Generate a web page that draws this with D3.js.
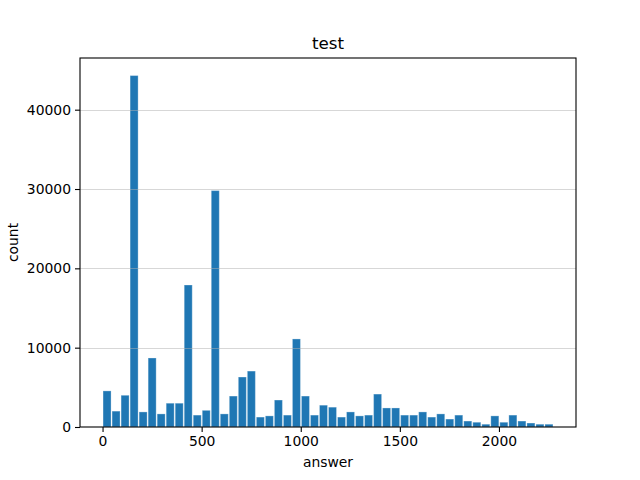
<!DOCTYPE html>
<html>
<head>
<meta charset="utf-8">
<script src="https://cdn.jsdelivr.net/npm/d3@7"></script>
<style>
  body { margin: 0; background: #fff; }
  text { font-family: "DejaVu Sans", sans-serif; fill: #000; }
</style>
</head>
<body>
<svg id="chart" width="640" height="480"></svg>
<script>
'use strict';
// histogram bins: 50 equal bins over [binMin, binMax]
const binMin = 0;
const binMax = 2275;
const counts = [
    4550, 2000, 4000, 44300, 1900, 8700, 1650, 3000, 3000, 17900,
    1500, 2100, 29800, 1650, 3900, 6300, 7050, 1250, 1400, 3400,
    1500, 11100, 3900, 1500, 2750, 2500, 1250, 1900, 1400, 1500,
    4150, 2400, 2400, 1500, 1500, 1900, 1250, 1650, 1000, 1500,
    750, 600, 350, 1400, 600, 1500, 750, 500, 350, 350
];
const xTicks = [0, 500, 1000, 1500, 2000];
const yTicks = [0, 10000, 20000, 30000, 40000];

const svg = d3.select('#chart');
const plot = { left: 80, right: 576, top: 58, bottom: 427 };

const binWidth = (binMax - binMin) / counts.length;
const bins = counts.map((c, i) => ({ x0: binMin + i * binWidth, x1: binMin + (i + 1) * binWidth, count: c }));

const span = binMax - binMin;
const x = d3.scaleLinear()
    .domain([binMin - 0.05 * span, binMax + 0.05 * span])
    .range([plot.left, plot.right]);
const yMax = d3.max(counts) * 1.05;
const y = d3.scaleLinear()
    .domain([0, yMax])
    .range([plot.bottom, plot.top]);

// bars
svg.append('g')
    .selectAll('rect')
    .data(bins)
    .enter()
    .append('rect')
    .attr('x', d => x(d.x0) + 0.5)
    .attr('y', d => y(d.count))
    .attr('width', d => x(d.x1) - x(d.x0) - 1)
    .attr('height', d => y(0) - y(d.count))
    .style('fill', '#1f77b4')
    .style('stroke', 'rgba(255,255,255,0.3)')
    .style('stroke-width', 1);

// horizontal grid on top of bars
svg.append('g')
    .selectAll('line')
    .data(yTicks.filter(t => t > 0))
    .enter()
    .append('line')
    .attr('x1', plot.left)
    .attr('x2', plot.right)
    .attr('y1', d => Math.round(y(d)) + 0.5)
    .attr('y2', d => Math.round(y(d)) + 0.5)
    .style('stroke', '#b0b0b0')
    .style('stroke-opacity', 0.5)
    .style('stroke-width', 1);

// axes
const xAxis = svg.append('g')
    .attr('transform', 'translate(0,' + plot.bottom + ')')
    .call(d3.axisBottom(x).tickValues(xTicks).tickSize(5).tickPadding(4).tickFormat(d3.format('d')));
const yAxis = svg.append('g')
    .attr('transform', 'translate(' + plot.left + ',0)')
    .call(d3.axisLeft(y).tickValues(yTicks).tickSize(5).tickPadding(4).tickFormat(d3.format('d')));

[xAxis, yAxis].forEach(a => {
    a.select('.domain').remove();
    a.selectAll('.tick line').style('stroke', '#000').style('stroke-width', 1.1);
    a.selectAll('.tick text').style('font-size', '13.9px').style('font-family', '"DejaVu Sans", sans-serif');
});

// frame
svg.append('rect')
    .attr('x', plot.left)
    .attr('y', plot.top)
    .attr('width', plot.right - plot.left)
    .attr('height', plot.bottom - plot.top)
    .style('fill', 'none')
    .style('stroke', '#000')
    .style('stroke-width', 1.1);

// labels
svg.append('text')
    .attr('x', (plot.left + plot.right) / 2)
    .attr('y', 49)
    .attr('text-anchor', 'middle')
    .style('font-size', '16.7px')
    .text('test');

svg.append('text')
    .attr('x', (plot.left + plot.right) / 2)
    .attr('y', 467)
    .attr('text-anchor', 'middle')
    .style('font-size', '13.9px')
    .text('answer');

svg.append('text')
    .attr('transform', 'translate(18,' + (plot.top + plot.bottom) / 2 + ') rotate(-90)')
    .attr('text-anchor', 'middle')
    .style('font-size', '13.9px')
    .text('count');
</script>
</body>
</html>
